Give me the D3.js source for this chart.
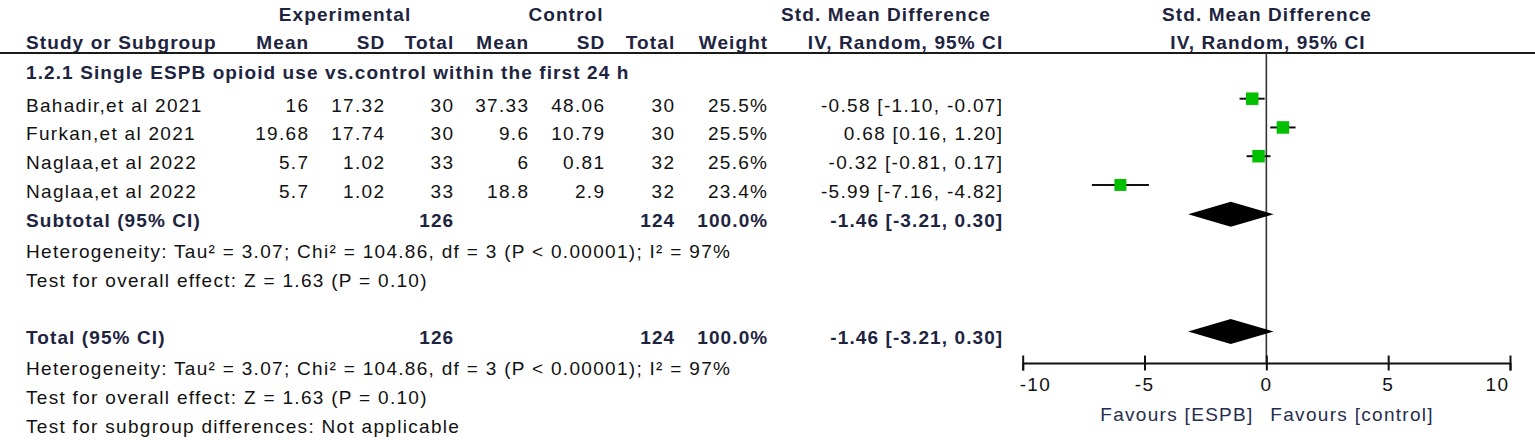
<!DOCTYPE html>
<html>
<head>
<meta charset="utf-8">
<script src="https://cdn.jsdelivr.net/npm/d3@7"></script>
<style>
  body { margin: 0; background: #fff; }
  text { font-family: "Liberation Sans", Arial, sans-serif; font-size: 19px; letter-spacing: 1.3px; fill: #111; }
  text.bold { font-weight: bold; letter-spacing: 1.1px; fill: #1e2440; }
  text.fav { fill: #262c4e; }
</style>
</head>
<body>
<div id="forest"></div>
<script>
// data
var studies = ["Bahadir,et al 2021", "Furkan,et al 2021", "Naglaa,et al 2022", "Naglaa,et al 2022"];
var expMean = [16, 19.68, 5.7, 5.7];
var expSD = [17.32, 17.74, 1.02, 1.02];
var expN = [30, 30, 33, 33];
var ctrlMean = [37.33, 9.6, 6, 18.8];
var ctrlSD = [48.06, 10.79, 0.81, 2.9];
var ctrlN = [30, 30, 32, 32];
var weights = [25.5, 25.5, 25.6, 23.4];
var smd = [-0.58, 0.68, -0.32, -5.99];
var ciLow = [-1.10, 0.16, -0.81, -7.16];
var ciHigh = [-0.07, 1.20, 0.17, -4.82];

var pooled = { est: -1.46, lo: -3.21, hi: 0.30, expN: 126, ctrlN: 124, weight: 100.0 };
var axisTicks = [-10, -5, 0, 5, 10];

var subgroupTitle = "1.2.1 Single ESPB opioid use vs.control within the first 24 h";
var hetText = "Heterogeneity: Tau\u00b2 = 3.07; Chi\u00b2 = 104.86, df = 3 (P < 0.00001); I\u00b2 = 97%";
var effectText = "Test for overall effect: Z = 1.63 (P = 0.10)";
var subgroupText = "Test for subgroup differences: Not applicable";

var svgWidth = 1535;
var svgHeight = 440;
var ls = 1.3; // trailing letter-spacing correction for end-anchored text

var svg = d3.select("#forest")
  .append("svg")
  .attr("width", svgWidth)
  .attr("height", svgHeight);

svg.append("rect").attr("width", svgWidth).attr("height", svgHeight).attr("fill", "#fff");

// column right edges
var col = {
  study: 26, eMean: 308, eSD: 384, eN: 453, cMean: 528, cSD: 604, cN: 674, weight: 767, ci: 1002
};

function txt(x, y, s, anchor, cls) {
  return svg.append("text")
    .attr("x", anchor === "end" ? x + ls : x)
    .attr("y", y)
    .attr("text-anchor", anchor || "start")
    .attr("class", cls || null)
    .text(s);
}

// headers
txt(345, 20.5, "Experimental", "middle", "bold");
txt(566, 20.5, "Control", "middle", "bold");
txt(886, 20.5, "Std. Mean Difference", "middle", "bold");
txt(1267, 20.5, "Std. Mean Difference", "middle", "bold");

txt(col.study, 49.3, "Study or Subgroup", "start", "bold");
txt(col.eMean, 49.3, "Mean", "end", "bold");
txt(col.eSD, 49.3, "SD", "end", "bold");
txt(col.eN, 49.3, "Total", "end", "bold");
txt(col.cMean, 49.3, "Mean", "end", "bold");
txt(col.cSD, 49.3, "SD", "end", "bold");
txt(col.cN, 49.3, "Total", "end", "bold");
txt(col.weight, 49.3, "Weight", "end", "bold");
txt(col.ci, 49.3, "IV, Random, 95% CI", "end", "bold");
txt(1268, 49.3, "IV, Random, 95% CI", "middle", "bold");

svg.append("line")
  .attr("x1", 0).attr("x2", svgWidth)
  .attr("y1", 53).attr("y2", 53)
  .attr("stroke", "#1a1a1a").attr("stroke-width", 2);

txt(col.study, 79.3, subgroupTitle, "start", "bold");

// scales
var x = d3.scaleLinear().domain([-10, 10]).range([1022.7, 1510]);
var rowY = d3.scaleLinear().domain([0, 4]).range([111.7, 226.7]); // text baselines
var boxSize = d3.scaleSqrt().domain([0, 25.6]).range([0, 12.5]);
var markOffset = 13; // marks sit slightly above the text centre

var fmt2 = d3.format(".2f");
function ciLabel(e, l, h) {
  return fmt2(e).replace("−", "-") + " [" + fmt2(l).replace("−", "-") + ", " + fmt2(h).replace("−", "-") + "]";
}

// study rows
studies.forEach(function(name, i) {
  var y = rowY(i);
  txt(col.study, y, name);
  txt(col.eMean, y, String(expMean[i]), "end");
  txt(col.eSD, y, String(expSD[i]), "end");
  txt(col.eN, y, String(expN[i]), "end");
  txt(col.cMean, y, String(ctrlMean[i]), "end");
  txt(col.cSD, y, String(ctrlSD[i]), "end");
  txt(col.cN, y, String(ctrlN[i]), "end");
  txt(col.weight, y, weights[i].toFixed(1) + "%", "end");
  txt(col.ci, y, ciLabel(smd[i], ciLow[i], ciHigh[i]), "end");
});

// zero line
svg.append("line")
  .attr("x1", x(0)).attr("x2", x(0))
  .attr("y1", 53).attr("y2", 363)
  .attr("stroke", "#333").attr("stroke-width", 1.6);

// CI whiskers and squares
var plotRows = svg.append("g");
plotRows.selectAll("line.ci")
  .data(smd)
  .enter()
  .append("line")
  .attr("class", "ci")
  .attr("x1", (d, i) => x(ciLow[i]))
  .attr("x2", (d, i) => x(ciHigh[i]))
  .attr("y1", (d, i) => rowY(i) - markOffset)
  .attr("y2", (d, i) => rowY(i) - markOffset)
  .attr("stroke", "#111")
  .attr("stroke-width", 2);

plotRows.selectAll("rect.box")
  .data(smd)
  .enter()
  .append("rect")
  .attr("class", "box")
  .attr("x", (d, i) => x(d) - boxSize(weights[i]) / 2)
  .attr("y", (d, i) => rowY(i) - markOffset - boxSize(weights[i]) / 2)
  .attr("width", (d, i) => boxSize(weights[i]))
  .attr("height", (d, i) => boxSize(weights[i]))
  .attr("fill", "#00c000");

// subtotal & total rows
var subY = rowY(4);
var totY = 344;
[subY, totY].forEach(function(y, k) {
  txt(col.study, y, k === 0 ? "Subtotal (95% CI)" : "Total (95% CI)", "start", "bold");
  txt(col.eN, y, String(pooled.expN), "end", "bold");
  txt(col.cN, y, String(pooled.ctrlN), "end", "bold");
  txt(col.weight, y, pooled.weight.toFixed(1) + "%", "end", "bold");
  txt(col.ci, y, ciLabel(pooled.est, pooled.lo, pooled.hi), "end", "bold");

  var cy = y - markOffset + 0.5;
  var h = 12.5;
  svg.append("path")
    .attr("d", "M" + x(pooled.lo) + "," + cy +
               " L" + x(pooled.est) + "," + (cy - h) +
               " L" + x(pooled.hi) + "," + cy +
               " L" + x(pooled.est) + "," + (cy + h) + " Z")
    .attr("fill", "#000");
});

txt(col.study, 258, hetText);
txt(col.study, 287.3, effectText);
txt(col.study, 375, hetText);
txt(col.study, 404, effectText);
txt(col.study, 433, subgroupText);

// x axis
var axisY = 363;
var axis = svg.append("g")
  .attr("transform", "translate(0," + axisY + ")")
  .call(d3.axisBottom(x).tickValues(axisTicks).tickSizeOuter(0).tickSize(7.5).tickFormat(""));

axis.select(".domain").attr("stroke", "#111").attr("stroke-width", 2);
axis.selectAll(".tick line")
  .attr("y1", -7.5).attr("y2", 7.5)
  .attr("stroke", "#111").attr("stroke-width", 2);

axisTicks.forEach(function(t, i) {
  var anchor = i === 0 ? "start" : (i === axisTicks.length - 1 ? "end" : "middle");
  var xx = i === 0 ? x(t) - 3 : (i === axisTicks.length - 1 ? x(t) - 2 : x(t));
  txt(xx, 391, String(t).replace("−", "-"), anchor);
});

txt(x(0) - 14, 421, "Favours [ESPB]", "end", "fav");
txt(x(0) + 4, 421, "Favours [control]", "start", "fav");
</script>
</body>
</html>
